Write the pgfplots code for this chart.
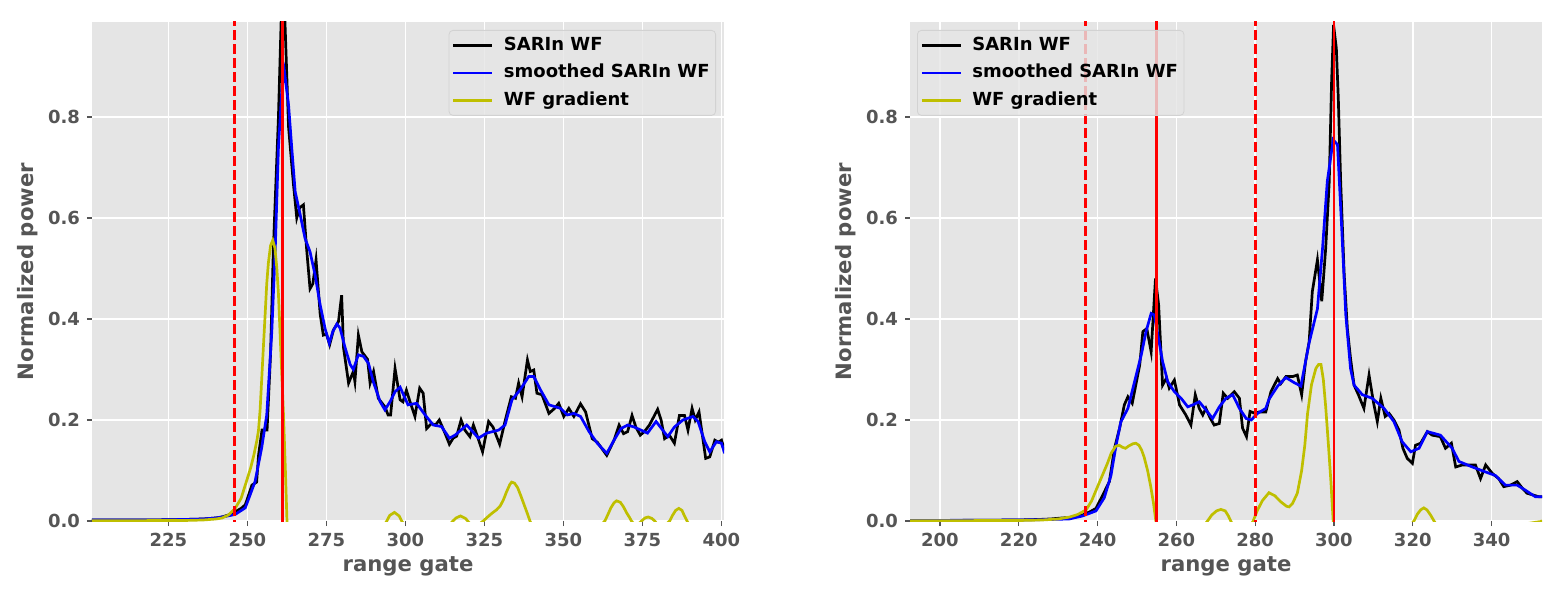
\documentclass[border=0pt]{standalone}
\usepackage{fontspec}
\setmainfont{DejaVu Sans}
\usepackage{pgfplots}
\pgfplotsset{compat=1.18}
\definecolor{bg}{HTML}{E5E5E5}
\definecolor{tg}{HTML}{555555}
\definecolor{my}{HTML}{BFBF00}
\definecolor{lgedge}{HTML}{D2D2D2}
\pgfplotsset{
 mystyle/.style={
  scale only axis, width=316pt, height=249.5pt,
  axis background/.style={fill=bg},
  axis line style={draw=none},
  grid=major, grid style={white, line width=0.8pt},
  tick style={tg, line width=0.6pt}, major tick length=2.5pt, tick align=outside,
  xtick pos=left, ytick pos=left,
  ymin=0, ymax=0.988,
  ytick={0,0.2,0.4,0.6,0.8},
  y tick label style={/pgf/number format/.cd, fixed, fixed zerofill, precision=1, /tikz/.cd},
  /pgf/number format/assume math mode=true,
  tick label style={font=\bfseries\fontsize{9}{10}\selectfont, text=tg},
  xlabel={range gate}, ylabel={Normalized power},
  every axis x label/.style={at={(axis description cs:0.5,-0.1014)}, anchor=base, font=\bfseries\fontsize{10.6}{12}\selectfont, text=tg},
  every axis y label/.style={at={(axis description cs:-0.1013,0.5)}, rotate=90, anchor=center, font=\bfseries\fontsize{10.6}{12}\selectfont, text=tg},
  legend style={draw=lgedge, fill=bg, fill opacity=0.8, text opacity=1, draw opacity=1, rounded corners=2pt,
    font=\bfseries\fontsize{9}{10}\selectfont, inner xsep=1.5pt, inner ysep=2.2pt, row sep=3.15pt, column sep=3.6pt,
    nodes={inner xsep=1.5pt, inner ysep=0.9pt, text height=6.8pt, text depth=2pt}},
  legend cell align=left,
  legend image code/.code={\draw[#1] (0pt,0pt) -- (19.5pt,0pt);},
  every axis plot/.append style={line width=1.35pt},
 }
}
\begin{document}
\begin{tikzpicture}
\useasboundingbox (-46pt,-34.5pt) rectangle (735.5pt,260.5pt);
% ---------------- left panel ----------------
\begin{axis}[mystyle, at={(0pt,0pt)}, anchor=south west,
  xmin=200.8, xmax=400.8, xtick={225,250,275,300,325,350,375,400},
  legend style={at={(1,1)}, anchor=north east, xshift=-4pt, yshift=-4pt}]
\addplot[black] coordinates {
(200.8,0.002) (220,0.002) (230,0.003) (236,0.004) (240,0.006) (242,0.008) (244,0.012) (246,0.018) (248,0.025)
(249.3,0.032) (250.3,0.05) (251.4,0.071) (252.9,0.077) (253.5,0.13) (254.6,0.18) (256.2,0.18) (257.3,0.33)
(258.2,0.54) (259.8,0.8) (260.7,1.0) (261.8,1.0) (263,0.78) (264.5,0.67) (265.6,0.6) (266.5,0.62) (267.7,0.626)
(268.7,0.54) (269.8,0.46) (270.7,0.47) (271.7,0.517) (273,0.41) (274,0.368) (275,0.37) (276,0.349) (277.2,0.378)
(278.8,0.395) (279.8,0.447) (280.4,0.343) (282,0.273) (283.5,0.296) (284,0.276) (285.1,0.368) (286.2,0.335)
(288,0.32) (288.8,0.273) (289.9,0.296) (291.4,0.243) (293.5,0.226) (294.5,0.21) (295.3,0.21) (296.7,0.302)
(298.3,0.24) (299.2,0.236) (300.3,0.259) (301.5,0.235) (303,0.207) (304.5,0.263) (305.6,0.253) (306.7,0.183)
(308.2,0.193) (309.5,0.19) (310.7,0.2) (312.5,0.174) (313.9,0.152) (315.1,0.164) (316.2,0.168) (317.6,0.2)
(318.8,0.18) (320.4,0.167) (321.5,0.19) (322.8,0.167) (324.4,0.137) (326.3,0.197) (327.7,0.186) (329.8,0.152)
(331.6,0.2) (333.5,0.246) (334.8,0.243) (335.8,0.273) (336.9,0.246) (338.6,0.319) (339.5,0.296) (340.6,0.299)
(341.6,0.253) (343.2,0.25) (345.4,0.213) (347.2,0.223) (348.5,0.233) (350.1,0.207) (351.7,0.223) (353.3,0.207)
(355.4,0.232) (357,0.216) (359.1,0.163) (360.7,0.156) (363.7,0.13) (366,0.16) (367.6,0.19) (369,0.173)
(370.3,0.177) (371.7,0.209) (372.9,0.186) (374.3,0.17) (375.6,0.177) (377.2,0.19) (379.8,0.221) (380.9,0.2)
(382,0.163) (383.5,0.17) (385.1,0.154) (386.7,0.209) (388.3,0.209) (389.4,0.18) (390.7,0.223) (391.7,0.2)
(392.9,0.216) (395,0.124) (396.3,0.127) (397.9,0.16) (399,0.156) (400,0.16) (401,0.14)};
\addlegendentry{SARIn WF}
\addplot[blue] coordinates {
(200.8,0.002) (220,0.002) (230,0.003) (236,0.004) (240,0.006) (243,0.009) (246.1,0.013) (249.3,0.026)
(252.4,0.078) (254.5,0.145) (256.1,0.21) (257.7,0.375) (258.8,0.54) (259.8,0.74) (260.9,0.857) (261.7,0.89)
(263,0.824) (264,0.74) (265.1,0.652) (266.7,0.606) (268.2,0.56) (269.8,0.533) (271.4,0.487) (273,0.428)
(274.6,0.38) (275.9,0.352) (277,0.375) (278.3,0.39) (279.3,0.382) (280.9,0.343) (282.5,0.31) (283.5,0.3)
(285.1,0.329) (286.7,0.326) (288.3,0.312) (289.8,0.276) (292,0.236) (293.5,0.22) (295.1,0.236) (296.7,0.256)
(298.3,0.265) (300.8,0.23) (303.5,0.233) (306.2,0.21) (308.8,0.19) (311.4,0.187) (313.9,0.164) (315.7,0.17)
(319.4,0.19) (323.1,0.164) (325.7,0.174) (329.5,0.18) (331.5,0.19) (333.7,0.24) (336.3,0.26) (339,0.286)
(340.6,0.286) (342.7,0.26) (345.4,0.23) (347.5,0.226) (349.1,0.223) (351.2,0.21) (353.3,0.213) (355.4,0.207)
(358.1,0.177) (360.7,0.154) (363.7,0.134) (366,0.16) (368.2,0.183) (370.3,0.19) (372.4,0.186) (374.5,0.18)
(376.6,0.174) (379.3,0.197) (381.4,0.18) (383,0.167) (385.1,0.186) (387.8,0.2) (391,0.207) (392.6,0.197)
(394.7,0.157) (396.3,0.137) (398.4,0.157) (400,0.154) (401,0.134)};
\addlegendentry{smoothed SARIn WF}
\addplot[my] coordinates {
(200.8,0.0005) (230,0.001) (236,0.002) (240,0.004) (242,0.006) (244,0.012) (246,0.024) (248,0.045) (250,0.085)
(251,0.105) (252,0.13) (253,0.16) (253.5,0.18) (254,0.22) (254.5,0.28) (255,0.34) (255.6,0.41) (256.1,0.47)
(256.6,0.51) (257.3,0.545) (258,0.556) (258.7,0.54) (259.3,0.5) (259.8,0.45) (260.2,0.39) (260.6,0.33) (261,0.27)
(261.4,0.21) (262,0.1) (262.5,0) (263,-0.1) (264,-0.25) (266,-0.3) (270,-0.2) (280,-0.1) (290,-0.05) (293,-0.01)
(294.1,0) (295,0.011) (296.5,0.017) (298,0.01) (298.8,0) (300,-0.01) (305,-0.03) (313,-0.015) (315,0) (316,0.006)
(317.4,0.01) (319,0.005) (319.7,0) (321,-0.01) (323,-0.008) (324.6,0) (326,0.008) (327.5,0.016) (328.8,0.022)
(330,0.03) (331,0.042) (332,0.058) (333,0.072) (333.6,0.077) (334.5,0.075) (335.5,0.066) (336.5,0.05)
(337.5,0.033) (338.5,0.016) (339.4,0) (341,-0.02) (350,-0.05) (360,-0.02) (363.1,0) (364,0.012) (365,0.026)
(366,0.036) (366.8,0.04) (368,0.037) (369,0.028) (370,0.016) (371,0.006) (371.5,0) (373,-0.01) (374.7,0)
(375.8,0.006) (376.8,0.008) (378,0.005) (378.9,0) (380,-0.01) (382,-0.01) (383.6,0) (384.5,0.011) (385.5,0.021)
(386.5,0.025) (387.5,0.021) (388.3,0.01) (389.1,0) (391,-0.02) (395,-0.03) (401,-0.02)};
\addlegendentry{WF gradient}
\addplot[red, line width=1.4pt, dash pattern=on 5pt off 2pt, forget plot] coordinates {(246,-0.1) (246,1.1)};
\addplot[red, line width=1.4pt, forget plot] coordinates {(261,-0.1) (261,1.1)};
\end{axis}
% ---------------- right panel ----------------
\begin{axis}[mystyle, at={(409pt,0pt)}, anchor=south west,
  xmin=192.4, xmax=352.8, xtick={200,220,240,260,280,300,320,340},
  legend style={at={(0,1)}, anchor=north west, xshift=3.5pt, yshift=-4pt}]
\addplot[black] coordinates {
(192.4,0.001) (200,0.001) (210,0.0015) (220,0.002) (225,0.003) (228,0.004) (231,0.006) (233,0.007) (235,0.01)
(236.2,0.012) (238,0.018) (239.6,0.025) (241.3,0.051) (243,0.078) (244.3,0.144) (245.6,0.184) (246.8,0.23)
(247.7,0.246) (248.8,0.233) (249.7,0.269) (250.7,0.309) (251.5,0.375) (252.5,0.381) (253.6,0.335) (254.7,0.48)
(255.5,0.428) (256.5,0.269) (257.5,0.283) (258.2,0.263) (259.5,0.279) (260.8,0.23) (262.4,0.21) (263.7,0.19)
(264.8,0.25) (265.8,0.223) (266.7,0.21) (267.5,0.223) (268.5,0.205) (269.6,0.19) (270.9,0.193) (271.9,0.253)
(273,0.243) (274.7,0.256) (276,0.243) (276.8,0.184) (277.8,0.167) (278.7,0.217) (280,0.213) (281,0.216)
(282.7,0.216) (284,0.256) (285.7,0.282) (286.5,0.272) (287.8,0.286) (289.5,0.286) (290.7,0.289) (291.8,0.25)
(292.8,0.316) (293.7,0.355) (294.5,0.454) (295.8,0.517) (296.9,0.435) (297.9,0.54) (298.8,0.672) (299.4,0.87)
(299.9,0.982) (300.6,0.936) (301.1,0.837) (301.7,0.672) (302.6,0.487) (303.4,0.381) (304.2,0.322) (305.1,0.269)
(306.2,0.25) (307.6,0.223) (308.9,0.289) (310,0.236) (311,0.197) (311.9,0.243) (313,0.207) (314,0.213)
(315.2,0.2) (316.5,0.18) (317.5,0.144) (318.6,0.124) (319.9,0.114) (320.7,0.15) (322,0.154) (323.7,0.177)
(324.9,0.17) (327,0.167) (328.3,0.144) (329.8,0.154) (330.9,0.107) (332.6,0.111) (334.2,0.111) (335.9,0.111)
(337.2,0.084) (338.5,0.111) (340.2,0.094) (341.8,0.084) (343.1,0.068) (344.8,0.071) (346.5,0.078) (347.8,0.065)
(349,0.055) (350.3,0.052) (352,0.048) (352.8,0.048)};
\addlegendentry{SARIn WF}
\addplot[blue] coordinates {
(192.4,0.001) (210,0.0015) (220,0.002) (228,0.003) (232.8,0.004) (236.2,0.01) (239.6,0.02) (241.7,0.046)
(243.4,0.09) (244.7,0.15) (245.9,0.196) (247.7,0.223) (249.4,0.276) (251.1,0.329) (252.3,0.375) (253.6,0.411)
(254.4,0.408) (255.3,0.369) (256.5,0.316) (257.8,0.276) (259.5,0.256) (261.2,0.243) (262.9,0.226) (264.2,0.23)
(265.8,0.236) (267.5,0.22) (269.2,0.203) (270.9,0.226) (272.6,0.243) (274.3,0.25) (276,0.223) (277.7,0.203)
(279,0.2) (280.6,0.213) (282.7,0.223) (283.5,0.241) (285.7,0.267) (287.8,0.284) (289.9,0.274) (291.6,0.267)
(293.7,0.353) (295.8,0.42) (297.1,0.54) (298.3,0.672) (299.8,0.755) (300.9,0.745) (302,0.574) (303,0.408)
(304.2,0.302) (305.1,0.269) (307.2,0.25) (309.7,0.243) (312.7,0.223) (315.2,0.197) (317.3,0.157) (319.5,0.137)
(321.6,0.144) (323.7,0.177) (327,0.17) (330,0.144) (331.7,0.118) (335.1,0.107) (338.5,0.097) (341,0.09)
(343.5,0.071) (346.5,0.071) (348.6,0.061) (351.1,0.048) (352.8,0.048)};
\addlegendentry{smoothed SARIn WF}
\addplot[my] coordinates {
(192.4,0.0005) (220,0.001) (226,0.002) (230,0.004) (233,0.008) (235,0.013) (237.1,0.022) (238.5,0.04) (240,0.068)
(241.2,0.09) (242.5,0.114) (243.5,0.135) (244.6,0.148) (245.5,0.15) (246.3,0.146) (247.1,0.144) (248,0.149)
(249,0.153) (249.7,0.154) (250.5,0.15) (251.2,0.14) (251.8,0.127) (252.7,0.1) (253.5,0.068) (254.2,0.035)
(254.8,0) (256,-0.1) (260,-0.1) (265,-0.03) (267.9,0) (269,0.012) (270.2,0.02) (271.3,0.023) (272.4,0.02)
(273.2,0.01) (273.8,0) (276,-0.03) (278,-0.02) (279.5,0) (280.5,0.02) (281.8,0.04) (283.5,0.056) (285,0.05)
(286.5,0.038) (288,0.029) (288.6,0.028) (289.5,0.035) (290.7,0.055) (291.8,0.1) (292.6,0.15) (293.3,0.213)
(294.3,0.27) (295.4,0.302) (296.1,0.31) (296.7,0.31) (297.3,0.28) (297.9,0.226) (298.6,0.15) (299.2,0.081)
(299.8,0) (300.5,-0.2) (303,-0.5) (310,-0.3) (315,-0.05) (320.3,0) (321.2,0.014) (322,0.022) (322.8,0.026)
(323.6,0.022) (324.5,0.012) (325.4,0) (327,-0.02) (335,-0.04) (345,-0.01) (352.5,-0.001) (352.8,0.001)};
\addlegendentry{WF gradient}
\addplot[red, line width=1.4pt, dash pattern=on 5pt off 2pt, forget plot] coordinates {(237,-0.1) (237,1.1)};
\addplot[red, line width=1.4pt, forget plot] coordinates {(255,-0.1) (255,1.1)};
\addplot[red, line width=1.4pt, dash pattern=on 5pt off 2pt, forget plot] coordinates {(280,-0.1) (280,1.1)};
\addplot[red, line width=1.4pt, forget plot] coordinates {(300,-0.1) (300,1.1)};
\end{axis}
\end{tikzpicture}
\end{document}
